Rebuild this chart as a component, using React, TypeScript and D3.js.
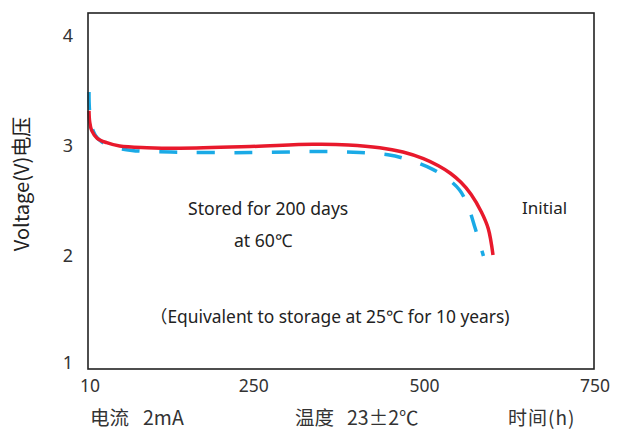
import React from "react";
import * as d3 from "d3";

const W = 618;
const H = 430;

const xTicks = [10, 250, 500, 750];
const yTicks = [1, 2, 3, 4];

// Initial (red, solid): [hours, volts]
const initialHours = [10, 11, 14, 22, 36, 55, 95, 143, 246, 338, 390, 436, 470, 500, 522, 540, 555, 570, 585, 595, 602];
const initialVolts = [3.32, 3.22, 3.14, 3.07, 3.03, 3.0, 2.985, 2.98, 2.995, 3.015, 3.01, 2.985, 2.945, 2.885, 2.82, 2.75, 2.67, 2.56, 2.4, 2.25, 2.01];

// Stored 200 days at 60℃ (blue, dashed)
const storedHours = [10, 10.5, 13, 16, 20, 26, 40, 73, 130, 246, 348, 407, 448, 473, 513, 535, 553, 565, 576, 588];
const storedVolts = [3.49, 3.35, 3.2, 3.14, 3.09, 3.05, 3.0, 2.96, 2.945, 2.94, 2.95, 2.94, 2.92, 2.885, 2.79, 2.705, 2.6, 2.46, 2.25, 2.0];

const FONT = "'Noto Sans', 'Noto Sans CJK SC', sans-serif";
const CJK = "'Noto Sans CJK SC', 'Noto Sans', sans-serif";

export default function App() {
  const left = 88, right = 594, top = 13, bottom = 369;
  const x = d3.scaleLinear().domain([10, 750]).range([89, 594]);
  const y = d3.scaleLinear().domain([2, 3]).range([256, 146]);

  const line = d3
    .line<[number, number]>()
    .x((d) => x(d[0]))
    .y((d) => y(d[1]))
    .curve(d3.curveCatmullRom.alpha(0.5));

  const red = initialHours.map((h, i) => [h, initialVolts[i]] as [number, number]);
  const blue = storedHours.map((h, i) => [h, storedVolts[i]] as [number, number]);

  const yLabelPos = (v: number) => Math.min(Math.max(y(v), top + 5), bottom - 6);

  return (
    <svg width={W} height={H} style={{ display: "block", position: "absolute", left: 0, top: 0 }}>
      <rect x={0} y={0} width={W} height={H} fill="#fff" />
      <path d={line(blue) || ""} fill="none" stroke="#1AAAE6" strokeWidth={3.5} strokeDasharray="18 19.5" />
      <path d={line(red) || ""} fill="none" stroke="#E8192C" strokeWidth={3.5} />
      <rect x={left} y={top} width={right - left} height={bottom - top} fill="none" stroke="#222" strokeWidth={1.6} />

      {yTicks.map((t) => (
        <text key={t} x={73} y={yLabelPos(t)} dy="0.36em" textAnchor="end" fontFamily={FONT} fontSize={18} fill="#333">
          {t}
        </text>
      ))}
      {xTicks.map((t) => (
        <text key={t} x={x(t) + 1} y={392} textAnchor="middle" fontFamily={FONT} fontSize={17.5} fill="#333">
          {t}
        </text>
      ))}

      <text transform="translate(29,184) rotate(-90)" textAnchor="middle" fontFamily={CJK} fontSize={20} fill="#222">
        Voltage(V)电压
      </text>

      <text x={188} y={215} fontFamily={FONT} fontSize={17.6} fill="#222">Stored for 200 days</text>
      <text x={234} y={247} fontFamily={FONT} fontSize={17.6} fill="#222">at 60℃</text>
      <text x={522} y={214} fontFamily={FONT} fontSize={17} fill="#222">Initial</text>
      <text x={150} y={323} fontFamily={FONT} fontSize={17.4} fill="#222">（Equivalent to storage at 25℃ for 10 years)</text>

      <text y={425} fontFamily={CJK} fontSize={19.5} fill="#333">
        <tspan x={90}>电流</tspan>
        <tspan x={143}>2mA</tspan>
      </text>
      <text y={425} fontFamily={CJK} fontSize={19.5} fill="#333">
        <tspan x={295}>温度</tspan>
        <tspan x={347}>23±2℃</tspan>
      </text>
      <text x={508} y={425} fontFamily={CJK} fontSize={19} fill="#333" letterSpacing={1}>时间(h)</text>
    </svg>
  );
}
